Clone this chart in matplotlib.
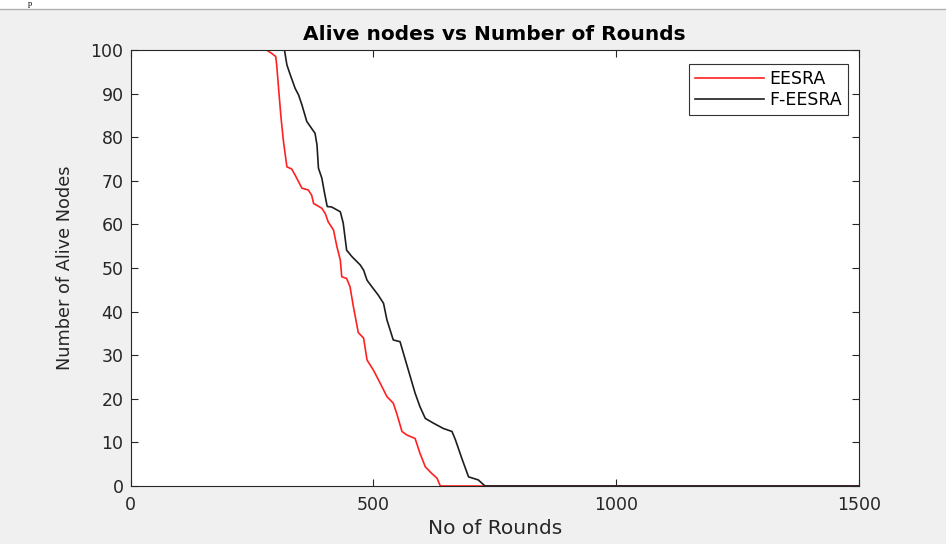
import matplotlib.pyplot as plt
from matplotlib.patches import Rectangle
from matplotlib.lines import Line2D

plt.rcParams['font.family'] = ['DejaVu Sans']

# EESRA (red) - rounds vs alive nodes
eesra_rounds = [0, 280, 291, 299, 301, 306, 310, 315, 322, 332, 339, 346, 353, 366,
                373, 377, 394, 401, 407, 418, 425, 432, 435, 445, 452, 459, 469,
                480, 487, 500, 514, 528, 541, 548, 559, 569, 586, 596, 607, 620,
                631, 638, 1500]
eesra_alive = [100, 100, 99.2, 98.5, 96.6, 89.7, 84.4, 79, 73.2, 72.7, 71.3, 69.8, 68.3, 67.9,
               66.7, 64.8, 63.7, 62.5, 60.6, 58.7, 54.9, 51.8, 48, 47.6, 45.7, 41.1, 35.2,
               33.9, 28.9, 26.6, 23.6, 20.5, 19, 16.7, 12.5, 11.7, 10.9, 7.5, 4.4, 2.9,
               1.8, 0, 0]

# F-EESRA (black)
feesra_rounds = [0, 317, 322, 329, 339, 346, 353, 363, 373, 380, 384, 387, 394, 399,
                 405, 414, 432, 438, 445, 456, 473, 480, 487, 497, 510, 521, 528,
                 541, 555, 566, 576, 586, 596, 607, 624, 644, 662, 669, 682, 696,
                 716, 730, 1500]
feesra_alive = [100, 100, 96.6, 94.3, 91.2, 89.7, 87.4, 83.6, 82, 80.9, 78.2, 72.9, 70.6, 67.5,
                64.1, 64, 62.9, 60.3, 54.1, 52.6, 50.7, 49.5, 47.2, 45.7, 43.8, 41.9, 38.1,
                33.5, 33.1, 28.9, 25.1, 21.3, 18.2, 15.5, 14.4, 13.2, 12.5, 10.6, 6.4, 2.1,
                1.4, 0, 0]

x_ticks = [0, 500, 1000, 1500]
y_ticks = [0, 10, 20, 30, 40, 50, 60, 70, 80, 90, 100]

fig = plt.figure(figsize=(9.46, 5.44), dpi=100, facecolor='#f0f0f0')

# white strip of the page above the screenshot
fig.patches.append(Rectangle((0, 1 - 9 / 544), 1, 9 / 544, transform=fig.transFigure,
                             facecolor='white', edgecolor='none', zorder=0))
fig.add_artist(Line2D([0, 1], [1 - 9 / 544, 1 - 9 / 544], transform=fig.transFigure,
                      color='#b0b0b0', lw=1))
fig.text(28 / 946, 1 - 0.5 / 544, 'p', family='Liberation Serif', fontsize=6,
         va='top', color='black')

ax = fig.add_axes([130.5 / 946, 58 / 544, 728.5 / 946, 436 / 544])
ax.set_facecolor('white')

ax.plot(eesra_rounds, eesra_alive, color='#ff2020', lw=1.2, label='EESRA')
ax.plot(feesra_rounds, feesra_alive, color='#1e1e1e', lw=1.2, label='F-EESRA')

ax.set_xlim(0, 1500)
ax.set_ylim(0, 100)
ax.set_xticks(x_ticks)
ax.set_yticks(y_ticks)

gray = '#262626'
for s in ax.spines.values():
    s.set_color(gray)
    s.set_linewidth(0.8)
ax.tick_params(direction='in', length=5, width=0.8, top=True, right=True,
               colors=gray, labelsize=12.5, labelcolor=gray)
ax.tick_params(axis='x', pad=7)
ax.tick_params(axis='y', pad=5)

ax.set_title('Alive nodes vs Number of Rounds', fontsize=14.5, fontweight='bold', pad=7)
ax.set_xlabel('No of Rounds', fontsize=14.5, color=gray, labelpad=4)
ax.set_ylabel('Number of Alive Nodes', fontsize=12.8, color=gray, labelpad=12)

leg = ax.legend(loc='upper right', bbox_to_anchor=(0.985, 0.968), borderaxespad=0,
                fontsize=12.5, handlelength=4.0, handletextpad=0.3, labelspacing=0.15,
                borderpad=0.35, fancybox=False, framealpha=1, edgecolor='#333333')
leg.get_frame().set_linewidth(0.8)

fig.savefig('out.png', dpi=100, facecolor=fig.get_facecolor())
